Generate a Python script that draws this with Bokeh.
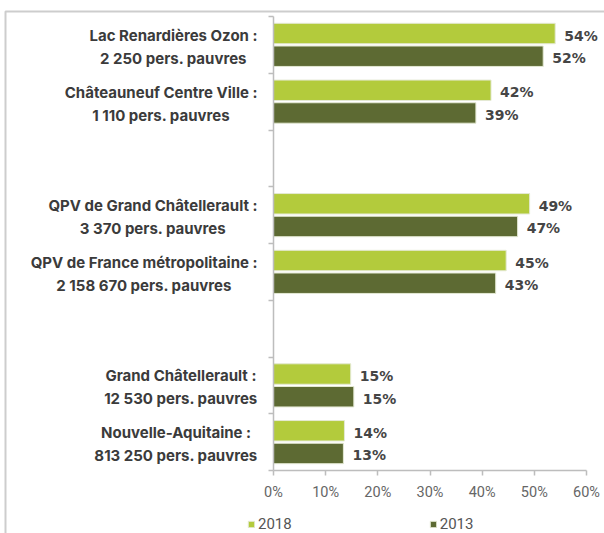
import glob
import os
from bokeh.plotting import figure
from bokeh.models import (ColumnDataSource, FixedTicker, Legend, LegendItem,
                          BoxAnnotation, Range1d)
from bokeh.core.properties import value
from bokeh.embed import file_html
from bokeh.resources import INLINE

# ---- data (top to bottom; None = empty separator slot) ----
territories = ["Lac Renardières Ozon", "Châteauneuf Centre Ville", None,
               "QPV de Grand Châtellerault", "QPV de France métropolitaine", None,
               "Grand Châtellerault", "Nouvelle-Aquitaine"]
poor_people = ["2 250", "1 110", None, "3 370", "2 158 670", None, "12 530", "813 250"]
rate_2018 = [54.0, 41.7, None, 49.1, 44.6, None, 14.8, 13.6]
rate_2013 = [51.7, 38.8, None, 46.8, 42.6, None, 15.4, 13.4]
x_ticks = [0, 10, 20, 30, 40, 50, 60]

# ---- style / layout ----
C2018 = "#b3cb3c"
C2013 = "#5d6a33"
TXT = "#3b3b3b"
AXIS = "#bdbdbd"
W, H = 604, 533
PX_X0, PX_X60 = 273, 586      # pixel position of 0 % and 60 %
PX_TOP, PX_BOTTOM = 16, 470   # pixel position of top / bottom of the category axis
CAT_FONT = "Inter"
CAT_SIZE = 15
CAT_GAP = 16                  # px between label block and axis


def find_font(family):
    roots = ["/usr/share/fonts", "/usr/local/share/fonts",
             os.path.expanduser("~/.fonts"), os.path.expanduser("~/.local/share/fonts")]
    files = []
    for r in roots:
        for ext in ("ttf", "otf", "ttc"):
            files += glob.glob(os.path.join(r, "**", f"{family}*.{ext}"), recursive=True)
    for f in files:
        b = os.path.basename(f)
        if b.split(".")[0] in (f"{family}-Bold",):
            return f, False
    for f in files:
        b = os.path.basename(f)
        if ("Bold" in b and not any(k in b for k in ("Semi", "Extra", "Italic", "Display", "Condensed"))
                and b.startswith(family + "-")):
            return f, False
    for f in files:
        b = os.path.basename(f)
        if ("[" in b or "Variable" in b) and "Italic" not in b and "Display" not in b:
            return f, True
    return None, False


def make_measure(family, size):
    try:
        from PIL import ImageFont
        path, variable = find_font(family)
        if path:
            font = ImageFont.truetype(path, size)
            if variable:
                try:
                    font.set_variation_by_name("Bold")
                except Exception:
                    try:
                        font.set_variation_by_axes([700])
                    except Exception:
                        pass
            font.getlength("abc")
            return lambda s: font.getlength(s)
    except Exception:
        pass
    return lambda s: len(s) * 0.55 * size


measure = make_measure(CAT_FONT, CAT_SIZE)

n = len(territories)
rows = [i for i in range(n) if territories[i] is not None]
centers = [n - i - 0.5 for i in rows]

# scales: frame covers the whole canvas
ppx = (PX_X60 - PX_X0) / 60.0
ppy = (PX_BOTTOM - PX_TOP) / n
x_range = Range1d(-PX_X0 / ppx, 60 + (W - PX_X60) / ppx)
y_range = Range1d(-(H - PX_BOTTOM) / ppy, n + PX_TOP / ppy)

src18 = ColumnDataSource(dict(
    y=[c + 0.2 for c in centers],
    v=[rate_2018[i] for i in rows],
    t=[f"{round(rate_2018[i])}%" for i in rows]))
src13 = ColumnDataSource(dict(
    y=[c - 0.2 for c in centers],
    v=[rate_2013[i] for i in rows],
    t=[f"{round(rate_2013[i])}%" for i in rows]))

cat_text, cat_off = [], []
for i in rows:
    l1 = f"{territories[i]} :"
    l2 = f"{poor_people[i]} pers. pauvres"
    w = max(measure(l1), measure(l2))
    cat_text.append(f"{l1}\n{l2}")
    cat_off.append(-(CAT_GAP + w / 2.0))
src_cat = ColumnDataSource(dict(y=centers, x=[0] * len(centers), t=cat_text, o=cat_off))

p = figure(width=W, height=H, output_backend="svg", toolbar_location=None,
           x_range=x_range, y_range=y_range,
           min_border=0, min_border_left=0, min_border_right=0,
           min_border_top=0, min_border_bottom=0)
p.outline_line_color = None
p.xgrid.visible = False
p.ygrid.visible = False
p.background_fill_color = "white"
p.border_fill_color = "white"

r18 = p.hbar(y="y", right="v", left=0, height=0.36, source=src18,
             fill_color=C2018, line_color="#e4e9d4", line_width=1)
r13 = p.hbar(y="y", right="v", left=0, height=0.36, source=src13,
             fill_color=C2013, line_color="#e4e9d4", line_width=1)

for s in (src18, src13):
    p.text(x="v", y="y", text="t", source=s, x_offset=9, y_offset=2,
           text_baseline="middle", text_align="left",
           text_font=value("DejaVu Sans"), text_font_style="bold",
           text_font_size="14px", text_color="#454545")

p.text(x="x", y="y", text="t", x_offset="o", y_offset=2, source=src_cat,
       text_align="center", text_baseline="middle",
       text_font=value(CAT_FONT), text_font_style="bold",
       text_font_size=f"{CAT_SIZE}px", text_color=TXT, text_line_height=1.2)

# x axis (fixed at y = 0)
xa = p.xaxis[0]
xa.fixed_location = 0
xa.bounds = (0, 60)
xa.ticker = FixedTicker(ticks=x_ticks)
xa.major_label_overrides = {t: f"{t}%" for t in x_ticks}
xa.axis_line_color = AXIS
xa.axis_line_width = 1.5
xa.major_tick_line_color = AXIS
xa.major_tick_line_width = 1.5
xa.major_tick_out = 5
xa.major_tick_in = 0
xa.minor_tick_line_color = None
xa.major_label_standoff = 8
xa.major_label_text_font = "Roboto"
xa.major_label_text_font_size = "14.5px"
xa.major_label_text_color = "#666666"

# y axis (fixed at x = 0): ticks at slot boundaries, no labels
ya = p.yaxis[0]
ya.fixed_location = 0
ya.bounds = (0, n)
ya.ticker = FixedTicker(ticks=list(range(n + 1)))
ya.major_label_overrides = {k: "" for k in range(n + 1)}
ya.axis_line_color = AXIS
ya.axis_line_width = 1.5
ya.major_tick_line_color = AXIS
ya.major_tick_line_width = 1.5
ya.major_tick_out = 5
ya.major_tick_in = 0
ya.minor_tick_line_color = None

legend = Legend(items=[LegendItem(label="2018", renderers=[r18]),
                       LegendItem(label="2013", renderers=[r13])],
                orientation="horizontal", location=(247, 0),
                spacing=137, padding=0, margin=0,
                glyph_width=8, glyph_height=8, label_standoff=3,
                label_height=12,
                label_text_font="Roboto", label_text_font_size="15px",
                label_text_color="#555555", label_text_baseline="middle",
                border_line_color=None, background_fill_alpha=0)
p.add_layout(legend, "center")

frame_box = BoxAnnotation(left=5, right=W + 50, top=11, bottom=H + 50,
                          left_units="canvas", right_units="canvas",
                          top_units="canvas", bottom_units="canvas",
                          fill_alpha=0, line_color="#5a5a5a", line_width=2,
                          editable=False)
p.add_layout(frame_box)

open("out.html", "w").write(file_html(p, INLINE))
